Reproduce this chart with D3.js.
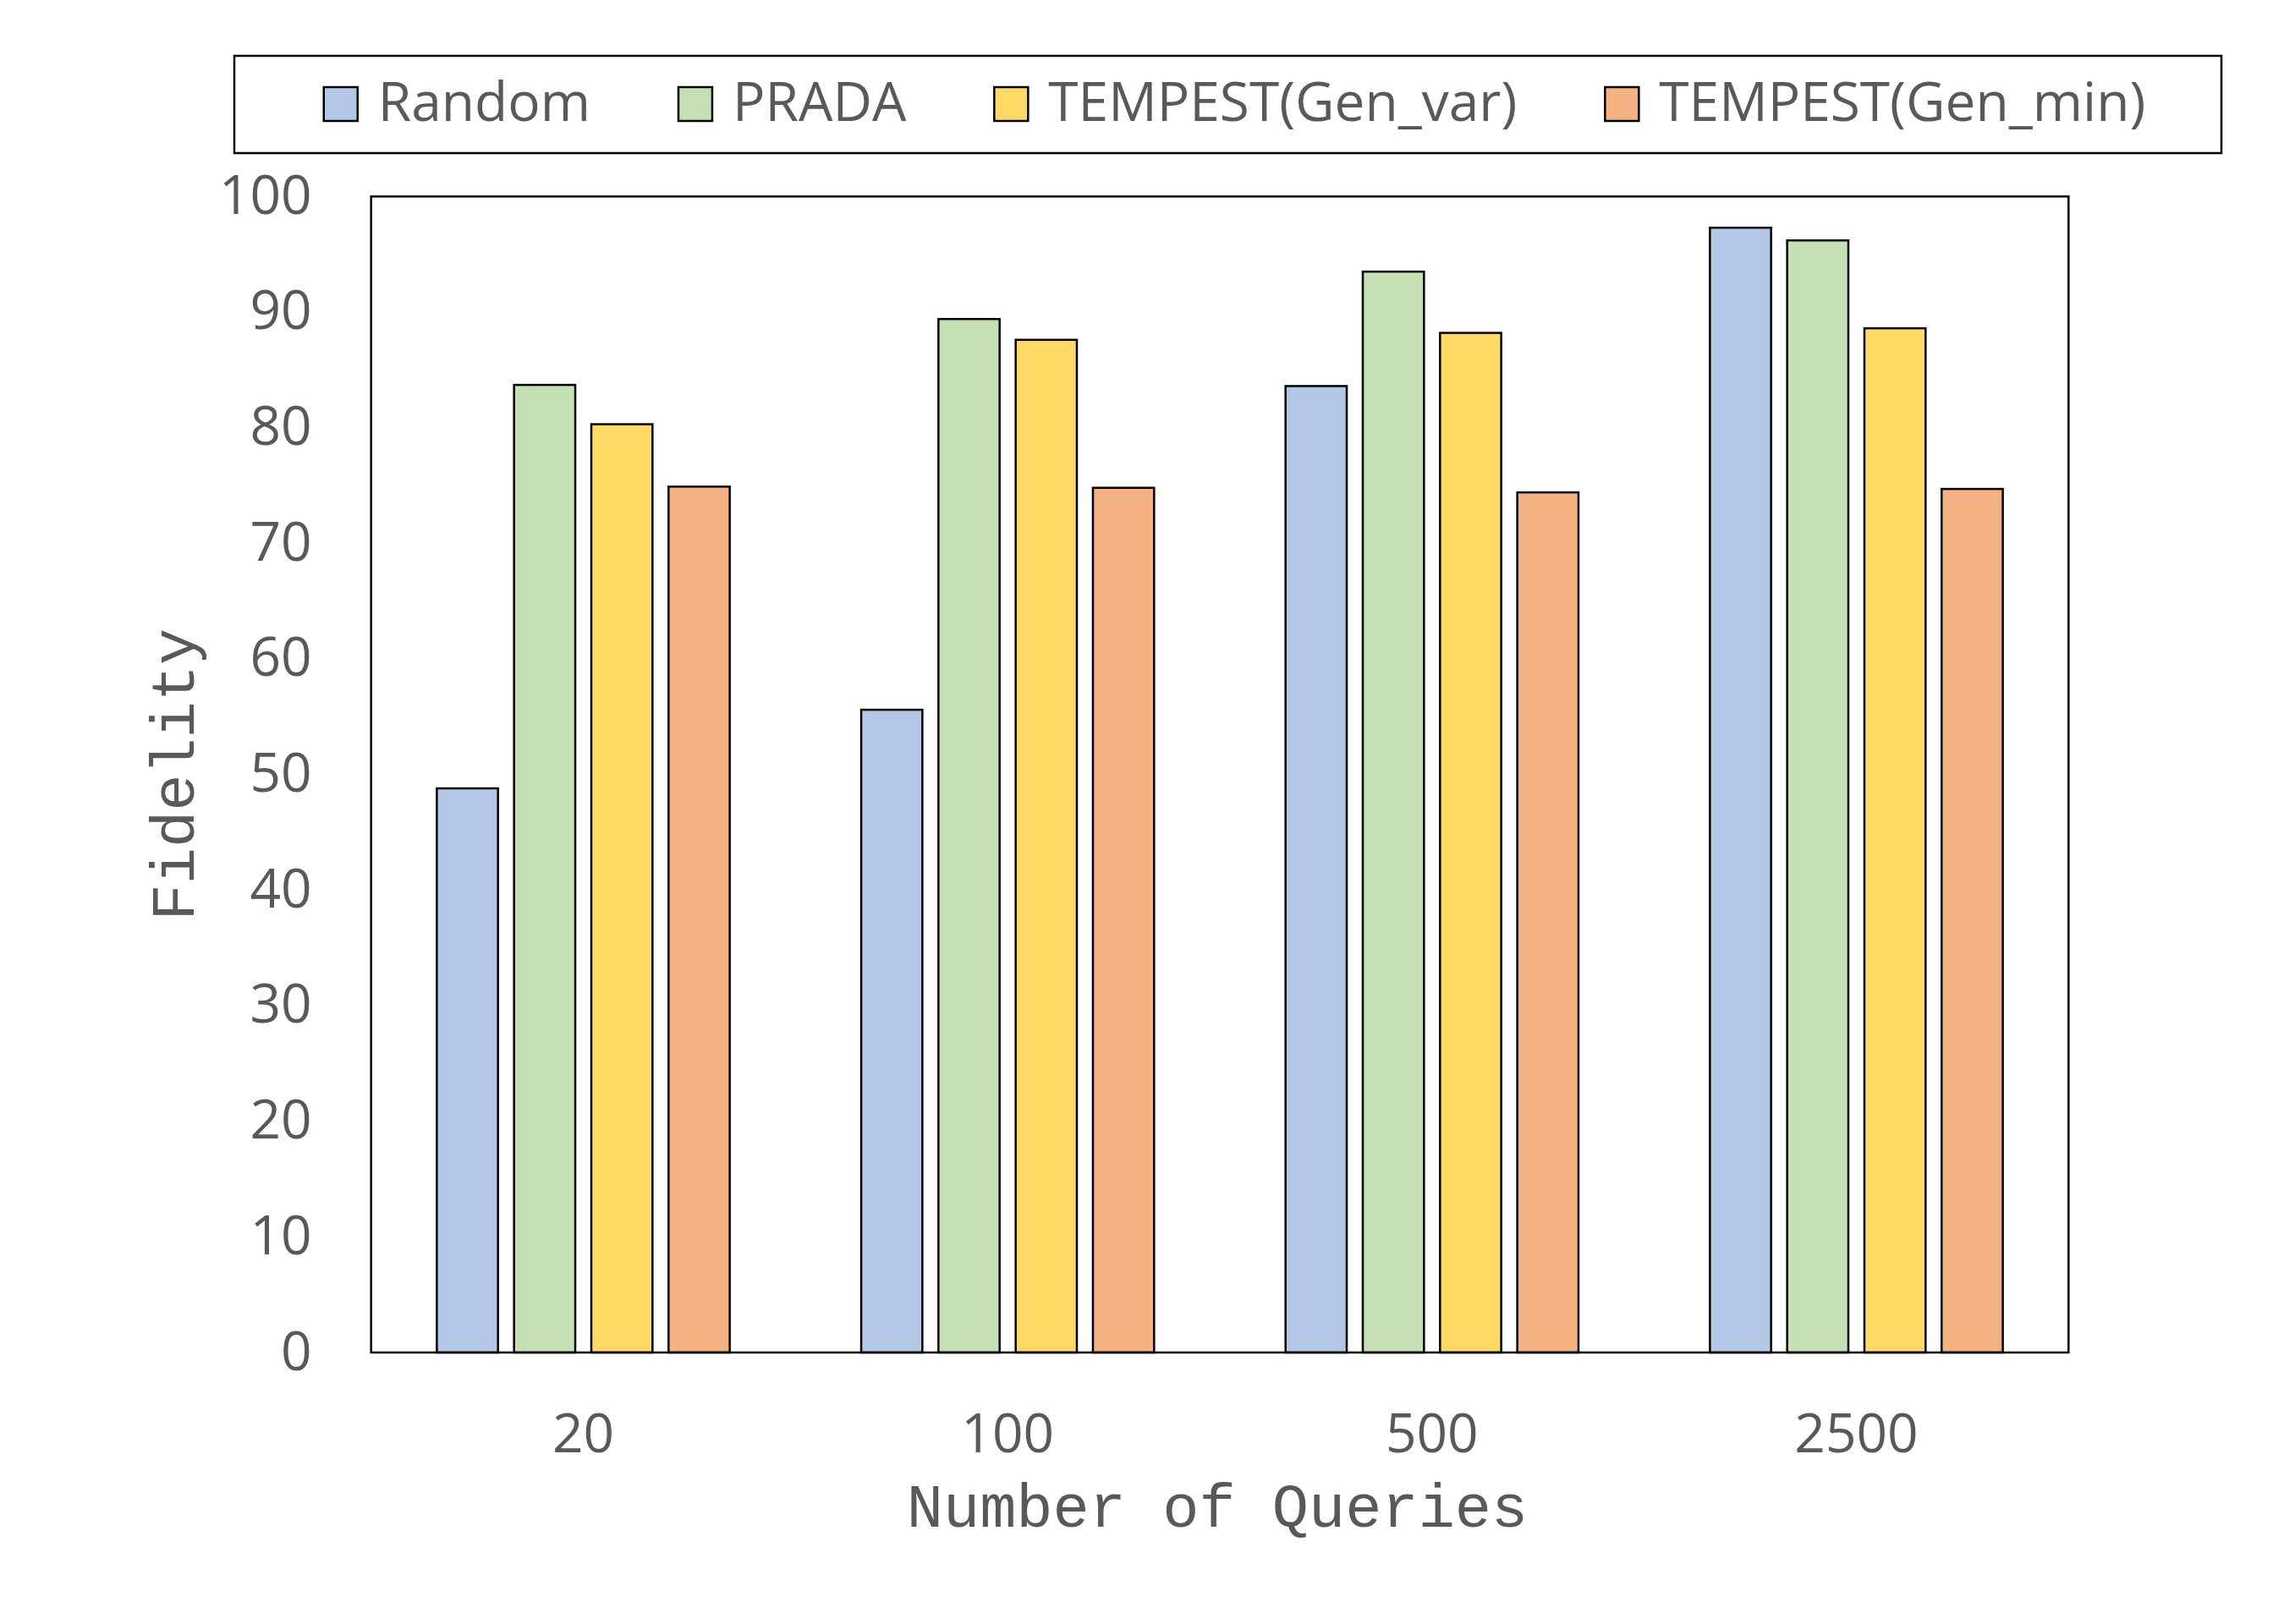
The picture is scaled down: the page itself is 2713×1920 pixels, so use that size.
<!DOCTYPE html>
<html>
<head>
<meta charset="utf-8">
<script src="https://cdn.jsdelivr.net/npm/d3@7"></script>
<style>
  html, body { margin: 0; padding: 0; background: #ffffff; }
  svg { display: block; }
</style>
</head>
<body>
<svg id="chart" width="2713" height="1920"></svg>
<script>
// ---- data ----
const categories = ["20", "100", "500", "2500"];
const seriesNames = ["Random", "PRADA", "TEMPEST(Gen_var)", "TEMPEST(Gen_min)"];
const randomValues = [48.8, 55.6, 83.6, 97.3];
const pradaValues = [83.7, 89.4, 93.5, 96.2];
const genVarValues = [80.3, 87.6, 88.2, 88.6];
const genMinValues = [74.9, 74.8, 74.4, 74.7];
const yTicks = [0, 10, 20, 30, 40, 50, 60, 70, 80, 90, 100];
const xTitle = "Number of Queries";
const yTitle = "Fidelity";

const seriesValues = [randomValues, pradaValues, genVarValues, genMinValues];
const colors = ["#B4C7E7", "#C5E0B4", "#FFD966", "#F4B183"];

// ---- layout ----
const svg = d3.select("#chart");
const plot = { left: 438.7, right: 2445.3, top: 232.3, bottom: 1599 };
const textColor = "#595959";
const sansFont = "'Open Sans', 'Noto Sans', sans-serif";
const monoFont = "'Liberation Mono', 'DejaVu Sans Mono', monospace";

const x0 = d3.scaleBand().domain(categories).range([plot.left, plot.right]).paddingInner(0).paddingOuter(0);
const x1 = d3.scaleBand().domain(seriesNames).range([0, x0.bandwidth()]).paddingInner(0.208).paddingOuter(0.851);
const y = d3.scaleLinear().domain([0, 100]).range([plot.bottom, plot.top]);

// ---- bars ----
const groups = svg.append("g").selectAll("g")
  .data(categories)
  .join("g")
  .attr("transform", d => `translate(${x0(d)},0)`);

groups.selectAll("rect")
  .data((c, ci) => seriesNames.map((s, si) => ({ s, si, v: seriesValues[si][ci] })))
  .join("rect")
  .attr("x", d => x1(d.s))
  .attr("y", d => y(d.v))
  .attr("width", x1.bandwidth())
  .attr("height", d => y(0) - y(d.v))
  .attr("fill", d => colors[d.si])
  .attr("stroke", "#000")
  .attr("stroke-width", 2.5);

// ---- plot frame ----
svg.append("rect")
  .attr("x", plot.left).attr("y", plot.top)
  .attr("width", plot.right - plot.left).attr("height", plot.bottom - plot.top)
  .attr("fill", "none").attr("stroke", "#000").attr("stroke-width", 2.5);

// ---- axes ----
const yAxis = svg.append("g")
  .attr("transform", `translate(${plot.left},0)`)
  .call(d3.axisLeft(y).tickValues(yTicks).tickSize(0).tickPadding(70).tickFormat(d3.format("d")));
yAxis.select(".domain").remove();
yAxis.selectAll("text")
  .attr("font-family", sansFont).attr("font-size", 64).attr("fill", textColor)
  .attr("dy", "20px");

const xAxis = svg.append("g")
  .attr("transform", `translate(0,${plot.bottom})`)
  .call(d3.axisBottom(x0).tickSize(0));
xAxis.select(".domain").remove();
xAxis.selectAll("text")
  .attr("font-family", sansFont).attr("font-size", 64).attr("fill", textColor)
  .attr("y", 118).attr("dy", 0);

// ---- axis titles ----
svg.append("text")
  .attr("x", (plot.left + plot.right) / 2 - 3)
  .attr("y", 1805)
  .attr("text-anchor", "middle")
  .attr("font-family", monoFont).attr("font-size", 72).attr("fill", textColor)
  .text(xTitle);

svg.append("text")
  .attr("transform", `translate(229,${(plot.top + plot.bottom) / 2}) rotate(-90)`)
  .attr("text-anchor", "middle")
  .attr("font-family", monoFont).attr("font-size", 72).attr("fill", textColor)
  .text(yTitle);

// ---- legend ----
const legendBox = { x: 277, y: 66, w: 2349, h: 115 };
svg.append("rect")
  .attr("x", legendBox.x).attr("y", legendBox.y)
  .attr("width", legendBox.w).attr("height", legendBox.h)
  .attr("fill", "#fff").attr("stroke", "#000").attr("stroke-width", 2.5);

const legend = svg.append("g");
const swatch = 40, swGap = 24, itemGap = 104;
const items = legend.selectAll("g").data(seriesNames).join("g");
items.append("rect")
  .attr("x", 0).attr("y", 103).attr("width", swatch).attr("height", swatch)
  .attr("fill", (d, i) => colors[i]).attr("stroke", "#000").attr("stroke-width", 2.5);
items.append("text")
  .attr("x", swatch + swGap).attr("y", 143)
  .attr("font-family", sansFont).attr("font-size", 64).attr("fill", textColor)
  .text(d => d);

const widths = [];
items.each(function () {
  widths.push(swatch + swGap + d3.select(this).select("text").node().getComputedTextLength());
});
const total = d3.sum(widths) + itemGap * (widths.length - 1);
let cx = legendBox.x + (legendBox.w - total) / 2 + 8;
items.attr("transform", (d, i) => {
  const t = `translate(${cx},0)`;
  cx += widths[i] + itemGap;
  return t;
});
</script>
</body>
</html>
